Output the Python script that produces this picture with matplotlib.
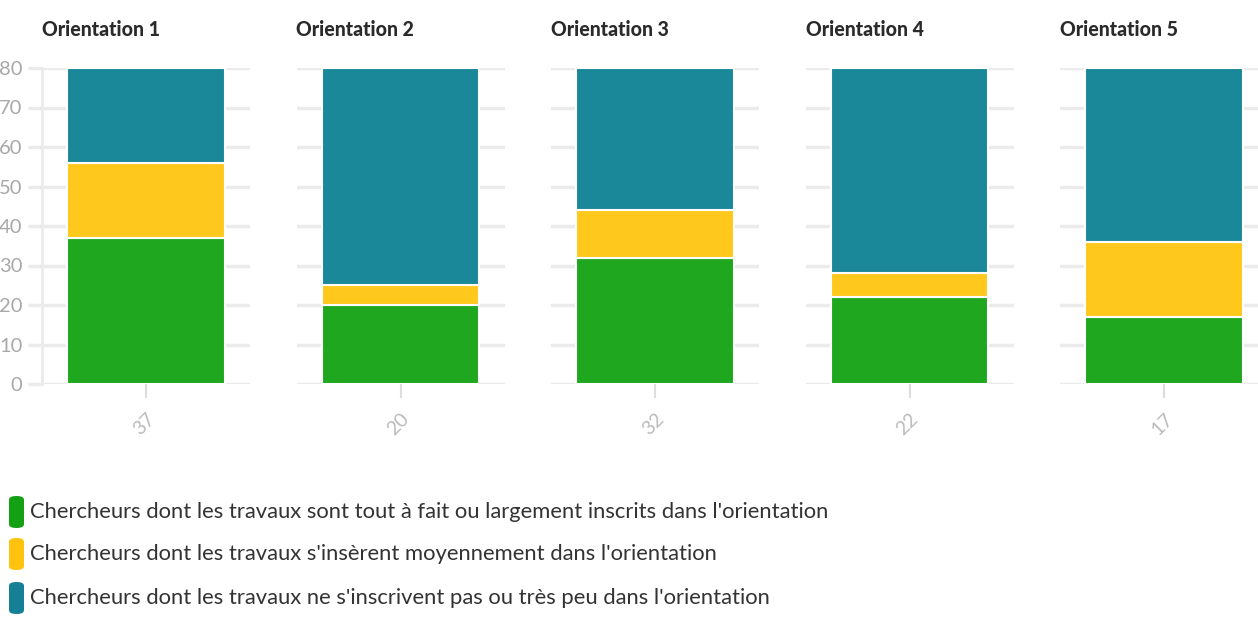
import matplotlib
matplotlib.use('Agg')
import matplotlib.pyplot as plt
from matplotlib.patches import FancyBboxPatch

# data
orientations = ['Orientation 1', 'Orientation 2', 'Orientation 3', 'Orientation 4', 'Orientation 5']
tick_labels = ['37', '20', '32', '22', '17']
inscrits = [37, 20, 32, 22, 17]
moyens = [19, 5, 12, 6, 19]
peu = [24, 55, 36, 52, 44]
series_labels = [
    "Chercheurs dont les travaux sont tout à fait ou largement inscrits dans l'orientation",
    "Chercheurs dont les travaux s'insèrent moyennement dans l'orientation",
    "Chercheurs dont les travaux ne s'inscrivent pas ou très peu dans l'orientation",
]
colors = ['#1fa81f', '#fec81c', '#1b8899']
swatch_colors = ['#14a014', '#ffc20e', '#157f95']

plt.rcParams['font.family'] = ['Lato', 'DejaVu Sans']

W, H = 1258, 617
fig = plt.figure(figsize=(W / 100, H / 100), dpi=100)
renderer = fig.canvas.get_renderer()


def fit_width(t, target_px):
    # shrink/grow a text so that it spans the same width as in the reference
    w = t.get_window_extent(renderer).width
    t.set_fontsize(t.get_fontsize() * target_px / w)


grid_c = '#ebebeb'
centers = [146, 400.5, 655, 909.5, 1164]
aw = 208
y0, y1 = 384, 68

title_size = None
for i, name in enumerate(orientations):
    left = centers[i] - aw / 2
    ax = fig.add_axes([left / W, 1 - y0 / H, aw / W, (y0 - y1) / H])
    stacks = [inscrits[i], moyens[i], peu[i]]
    bottom = 0
    for v, c in zip(stacks, colors):
        ax.bar(0, v, bottom=bottom, width=0.755, color=c, edgecolor='white', linewidth=1.5, zorder=3)
        bottom += v
    ax.set_xlim(-0.5, 0.5)
    ax.set_ylim(0, 80)
    ax.set_yticks(range(0, 81, 10))
    ax.yaxis.grid(True, color=grid_c, linewidth=2.5)
    ax.set_axisbelow(True)
    for s in ['top', 'right', 'bottom', 'left']:
        ax.spines[s].set_visible(False)
    if i == 0:
        ax.spines['left'].set_visible(True)
        ax.spines['left'].set_color(grid_c)
        ax.spines['left'].set_linewidth(2)
        ax.tick_params(axis='y', length=10, width=2.5, color=grid_c, labelsize=14.5,
                       labelcolor='#a8a8a8', pad=4)
    else:
        ax.tick_params(axis='y', length=0, labelleft=False)
    ax.set_xticks([0])
    ax.set_xticklabels([tick_labels[i]], rotation=45, ha='right', va='top',
                       rotation_mode='anchor', color='#bbbbbb', fontsize=14)
    ax.tick_params(axis='x', length=10, width=1.5, color='#dddddd', pad=9)
    t = fig.text(left / W, 1 - 29 / H, name, fontsize=17, fontweight='black', color='#2a2a2a',
                 ha='left', va='center')
    if title_size is None:
        fit_width(t, 118)
        title_size = t.get_fontsize()
    else:
        t.set_fontsize(title_size)

# legend
rows = [512, 554, 598]
leg_size = None
for lab, c, yc in zip(series_labels, swatch_colors, rows):
    fig.patches.append(FancyBboxPatch((9 / W, (H - yc - 16) / H), 15 / W, 32 / H,
                                      boxstyle='round,pad=0,rounding_size=0.006',
                                      transform=fig.transFigure, facecolor=c, edgecolor='none'))
    t = fig.text(30 / W, 1 - yc / H, lab, fontsize=19, color='#333333', ha='left', va='center')
    if leg_size is None:
        fit_width(t, 802)
        leg_size = t.get_fontsize()
    else:
        t.set_fontsize(leg_size)

fig.savefig('out.png', dpi=100)
